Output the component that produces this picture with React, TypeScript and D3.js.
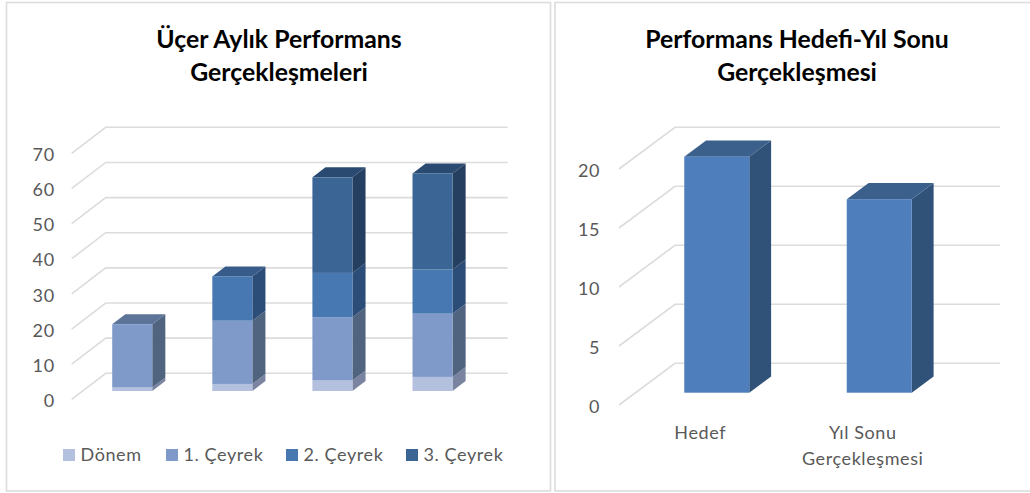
import React, { useRef, useEffect } from "react";
import { select, scaleLinear, scaleBand, axisLeft, stack } from "d3";

const quarters = ["a", "b", "c", "d"];
const seriesNames = ["Dönem", "1. Çeyrek", "2. Çeyrek", "3. Çeyrek"];
const donem = [1, 2, 3, 4];
const ceyrek1 = [18, 18, 18, 18];
const ceyrek2 = [0, 12.6, 12.6, 12.6];
const ceyrek3 = [0, 0, 27.2, 27.3];
const leftTicks = [0, 10, 20, 30, 40, 50, 60, 70];

const goalCategories = ["Hedef", "Yıl Sonu Gerçekleşmesi"];
const goalValues = [20, 16.4];
const rightTicks = [0, 5, 10, 15, 20];

const frontColors = ["#b3c1de", "#7f9ac9", "#4878b2", "#3a6595"];
const sideColors = ["#7a84a0", "#50637f", "#2c4d78", "#253f60"];
const topColors = ["#8a96b5", "#5c7497", "#375c8a", "#2b4a72"];

const FONT = "Lato, 'Open Sans', sans-serif";
const GRID = "#dcdcdc";
const TEXT = "#595959";

type Box = {
  x0: number; // front plane left
  x1: number; // front plane right
  y0: number; // front plane value 0
  dx: number;
  dy: number;
  inset: number;
  depth: number;
  labelGap: number;
};

// draws floor-to-wall grid with the slanted side wall lines
function drawFrame(g: any, box: Box, y: any, ticks: number[]) {
  const lines = g.append("g");
  ticks.forEach((t) => {
    lines
      .append("path")
      .attr("fill", "none")
      .attr("stroke", GRID)
      .attr("stroke-width", 1.6)
      .attr(
        "d",
        `M${box.x0},${y(t)}L${box.x0 + box.dx},${y(t) - box.dy}L${box.x1 + box.dx},${y(t) - box.dy}`
      );
  });
  const axis = axisLeft(y).tickValues(ticks).tickSize(0).tickPadding(0);
  const ax = g.append("g").attr("transform", `translate(${box.x0 - box.labelGap},1.5)`).call(axis);
  ax.select(".domain").remove();
  ax.selectAll("text")
    .attr("font-family", FONT)
    .attr("font-size", 18)
    .attr("letter-spacing", 0.6)
    .attr("fill", TEXT);
}

function drawBlock(
  g: any,
  box: Box,
  left: number,
  width: number,
  yTop: number,
  yBot: number,
  colors: string[],
  showTop: boolean
) {
  const ox = box.inset * box.dx;
  const oy = box.inset * box.dy;
  const ddx = box.depth * box.dx;
  const ddy = box.depth * box.dy;
  const fx0 = left + ox;
  const fx1 = fx0 + width;
  const t = yTop - oy;
  const b = yBot - oy;
  g.append("path")
    .attr("fill", colors[1])
    .attr("d", `M${fx1},${t}L${fx1 + ddx},${t - ddy}L${fx1 + ddx},${b - ddy}L${fx1},${b}Z`);
  if (showTop) {
    g.append("path")
      .attr("fill", colors[2])
      .attr("d", `M${fx0},${t}L${fx0 + ddx},${t - ddy}L${fx1 + ddx},${t - ddy}L${fx1},${t}Z`);
  }
  g.append("rect")
    .attr("x", fx0)
    .attr("y", t)
    .attr("width", width)
    .attr("height", b - t)
    .attr("fill", colors[0]);
}

function addTitle(svg: any, lines: string[], cx: number) {
  lines.forEach((line, i) => {
    svg
      .append("text")
      .attr("x", cx)
      .attr("y", 48 + i * 32.5)
      .attr("text-anchor", "middle")
      .attr("font-family", FONT)
      .attr("font-weight", 700)
      .attr("font-size", 24.8)
      .attr("fill", "#000")
      .text(line);
  });
}

export default function App() {
  const svgRef = useRef<SVGSVGElement>(null);

  useEffect(() => {
    const svg = select(svgRef.current);
    svg.selectAll("*").remove();

    svg.append("rect").attr("width", 1030).attr("height", 493).attr("fill", "#fff");
    svg
      .append("rect")
      .attr("x", 6.5)
      .attr("y", 2.5)
      .attr("width", 544)
      .attr("height", 488.5)
      .attr("fill", "#fff")
      .attr("stroke", GRID)
      .attr("stroke-width", 1.6);
    svg
      .append("rect")
      .attr("x", 555)
      .attr("y", 2.5)
      .attr("width", 480)
      .attr("height", 488.5)
      .attr("fill", "#fff")
      .attr("stroke", GRID)
      .attr("stroke-width", 1.6);

    // left chart
    addTitle(svg, ["Üçer Aylık Performans", "Gerçekleşmeleri"], 279);
    const leftBox: Box = { x0: 71.7, x1: 473.7, y0: 399.3, dx: 34, dy: 26, inset: 0.32, depth: 0.385, labelGap: 17 };
    const yLeft = scaleLinear().domain([0, 70]).range([leftBox.y0, 153.3]);
    const left = svg.append("g");
    drawFrame(left, leftBox, yLeft, leftTicks);

    const xLeft = scaleBand().domain(quarters).range([71.3, 471.7]).paddingInner(0.6).paddingOuter(0.3);
    const rows = quarters.map((q, i) => ({
      q,
      [seriesNames[0]]: donem[i],
      [seriesNames[1]]: ceyrek1[i],
      [seriesNames[2]]: ceyrek2[i],
      [seriesNames[3]]: ceyrek3[i],
    }));
    const layers = stack<any>().keys(seriesNames)(rows);
    quarters.forEach((q, i) => {
      const bar = left.append("g");
      let topIdx = 0;
      layers.forEach((l, k) => {
        if (l[i][1] > l[i][0]) topIdx = k;
      });
      layers.forEach((l, k) => {
        const [a, b] = l[i];
        if (b <= a) return;
        drawBlock(
          bar,
          leftBox,
          xLeft(q) as number,
          xLeft.bandwidth(),
          yLeft(b),
          yLeft(a),
          [frontColors[k], sideColors[k], topColors[k]],
          k === topIdx
        );
      });
    });

    // legend
    const legendX = [63, 166, 286, 406];
    seriesNames.forEach((name, i) => {
      svg
        .append("rect")
        .attr("x", legendX[i])
        .attr("y", 449)
        .attr("width", 12)
        .attr("height", 12)
        .attr("fill", frontColors[i]);
      svg
        .append("text")
        .attr("x", legendX[i] + 17.5)
        .attr("y", 461)
        .attr("font-family", FONT)
        .attr("font-size", 18)
        .attr("letter-spacing", 0.6)
        .attr("fill", TEXT)
        .text(name);
    });

    // right chart
    addTitle(svg, ["Performans Hedefi-Yıl Sonu", "Gerçekleşmesi"], 797);
    const rightBox: Box = { x0: 619, x1: 944, y0: 405, dx: 56, dy: 41.7, inset: 0.295, depth: 0.39, labelGap: 19 };
    const yRight = scaleLinear().domain([0, 20]).range([rightBox.y0, 169]);
    const right = svg.append("g");
    drawFrame(right, rightBox, yRight, rightTicks);

    const xRight = scaleBand().domain(goalCategories).range([rightBox.x0, rightBox.x1]).paddingInner(0.6).paddingOuter(0.3);
    goalCategories.forEach((c, i) => {
      drawBlock(
        right,
        rightBox,
        xRight(c) as number,
        xRight.bandwidth(),
        yRight(goalValues[i]),
        yRight(0),
        ["#4e7fbc", "#305178", "#3b608c"],
        true
      );
    });

    const labelLines = [["Hedef"], ["Yıl Sonu", "Gerçekleşmesi"]];
    goalCategories.forEach((c, i) => {
      const cx = (xRight(c) as number) + xRight.bandwidth() / 2;
      labelLines[i].forEach((line, j) => {
        svg
          .append("text")
          .attr("x", cx)
          .attr("y", 439 + j * 25.5)
          .attr("text-anchor", "middle")
          .attr("font-family", FONT)
          .attr("font-size", 18)
          .attr("letter-spacing", 0.6)
          .attr("fill", TEXT)
          .text(line);
      });
    });
  }, []);

  return (
    <svg
      ref={svgRef}
      width={1030}
      height={493}
      style={{ position: "absolute", left: 0, top: 0 }}
    />
  );
}
